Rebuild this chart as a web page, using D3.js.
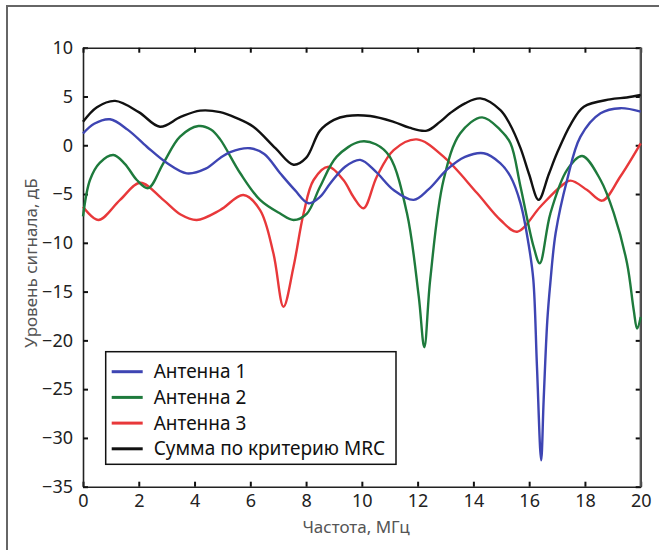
<!DOCTYPE html>
<html>
<head>
<meta charset="utf-8">
<script src="https://cdn.jsdelivr.net/npm/d3@7"></script>
<style>
  body { margin: 0; background: #fff; }
  svg { display: block; font-family: "Noto Sans", "Open Sans", sans-serif; }
</style>
</head>
<body>
<script>
//#### DATA ####
// frequency (MHz) / level (dB)
var mrcX = [0, 0.5, 1.15, 2, 2.76, 3.5, 4.2, 4.92, 5.5, 6.11, 6.9, 7.55, 8.0, 8.5, 9.0, 9.46, 10.3, 11.14, 11.7, 12.33, 12.8, 13.17, 13.7, 14.25, 14.97, 15.3, 15.69, 16.0, 16.34, 16.7, 17.0, 17.5, 17.96, 18.9, 19.5, 20];
var mrcY = [2.4, 3.9, 4.55, 3.4, 1.9, 2.9, 3.55, 3.4, 2.8, 1.9, -0.3, -2.0, -1.3, 1.5, 2.6, 3.0, 3.0, 2.4, 1.8, 1.5, 2.4, 3.3, 4.3, 4.8, 3.6, 2.2, -0.3, -3.0, -5.6, -3.0, -0.8, 2.2, 3.95, 4.7, 4.9, 5.15];

var ant1X = [0, 0.4, 0.97, 1.6, 2.29, 3.0, 3.72, 4.4, 4.92, 5.28, 5.99, 6.5, 7.07, 7.6, 8.09, 8.5, 8.87, 9.4, 9.94, 10.5, 11.14, 11.86, 12.4, 13.05, 13.7, 14.37, 14.97, 15.33, 15.69, 16.0, 16.15, 16.28, 16.43, 16.52, 16.65, 16.76, 16.95, 17.36, 17.84, 18.56, 19.27, 20];
var ant1Y = [1.2, 2.2, 2.66, 1.6, -0.15, -1.8, -2.88, -2.4, -1.3, -0.7, -0.31, -0.9, -2.87, -4.6, -5.95, -5.3, -3.9, -2.2, -1.5, -2.7, -4.59, -5.6, -4.5, -2.5, -1.2, -0.82, -1.85, -3.2, -5.95, -10.5, -13.8, -22.7, -32.3, -26.1, -18.0, -14.1, -9.0, -3.56, 0.88, 3.28, 3.8, 3.44];

var ant2X = [0, 0.25, 0.6, 1.09, 1.5, 1.93, 2.34, 2.88, 3.48, 4.14, 4.6, 4.92, 5.64, 6.35, 7.07, 7.55, 8.03, 8.5, 9.1, 9.94, 10.5, 11.0, 11.62, 12.04, 12.24, 12.45, 12.93, 13.53, 14.31, 14.97, 15.33, 15.69, 16.16, 16.38, 16.76, 17.36, 17.9, 18.56, 19.04, 19.51, 19.75, 19.87, 20];
var ant2Y = [-7.3, -3.56, -1.8, -1.0, -1.9, -3.56, -4.4, -1.85, 0.88, 1.97, 1.6, 0.6, -2.87, -5.6, -7.0, -7.66, -7.0, -4.25, -1.17, 0.37, 0.1, -1.17, -7.0, -15.5, -20.7, -13.8, -3.56, 1.23, 2.86, 1.56, 0.2, -4.25, -10.4, -12.1, -7.0, -2.53, -1.1, -3.56, -7.0, -12.1, -16.9, -18.8, -17.6];

var ant3X = [0, 0.55, 1.33, 2.05, 2.88, 3.5, 4.08, 4.92, 5.75, 6.35, 6.83, 7.19, 7.55, 7.91, 8.27, 8.8, 9.34, 9.7, 10.06, 10.54, 11.14, 11.97, 12.93, 14.13, 14.97, 15.57, 16.4, 17.12, 17.48, 18.08, 18.62, 19.27, 20];
var ant3Y = [-6.3, -7.66, -5.6, -3.84, -5.6, -7.1, -7.66, -6.64, -5.1, -6.64, -11.1, -16.55, -12.45, -7.0, -3.56, -2.2, -3.56, -5.3, -6.46, -3.2, -0.49, 0.6, -1.17, -4.9, -7.66, -8.86, -6.3, -4.25, -3.63, -4.59, -5.68, -3.2, 0.2];

var seriesNames = ["Антенна 1", "Антенна 2", "Антенна 3", "Сумма по критерию MRC"];
var seriesColors = ["#3e45b3", "#1e7a3c", "#e8383a", "#111111"];

var xTicks = [0, 2, 4, 6, 8, 10, 12, 14, 16, 18, 20];
var yTicks = [10, 5, 0, -5, -10, -15, -20, -25, -30, -35];

var xTitle = "Частота, МГц";
var yTitle = "Уровень сигнала, дБ";
//##############

var width_outer = 659;
var height_outer = 550;
var margin = {top: 47.7, right: 18.3, bottom: 63.3, left: 83};
var width = width_outer - margin.left - margin.right;
var height = height_outer - margin.top - margin.bottom;

var svg0 = d3.select("body").append("svg")
  .attr("width", width_outer)
  .attr("height", height_outer);

// outer frame (left + top visible)
svg0.append("path")
  .attr("d", "M7,550 L7,6 L659,6")
  .attr("fill", "none")
  .attr("stroke", "#666")
  .attr("stroke-width", 2);

var svg = svg0.append("g")
  .attr("transform", "translate(" + margin.left + "," + margin.top + ")");

var x = d3.scaleLinear().domain([0, 20]).range([0, width]);
var y = d3.scaleLinear().domain([-35, 10]).range([height, 0]);

// axes, ticks pointing inward
var xAxis = d3.axisBottom(x).tickValues(xTicks).tickSizeInner(-5).tickSizeOuter(0).tickPadding(8);
var yAxis = d3.axisLeft(y).tickValues(yTicks).tickSizeInner(-5).tickSizeOuter(0).tickPadding(10);
var xTop = d3.axisTop(x).tickValues(xTicks).tickSizeInner(-5).tickSizeOuter(0).tickFormat("");
var yRight = d3.axisRight(y).tickValues(yTicks).tickSizeInner(-5).tickSizeOuter(0).tickFormat("");

svg.append("g").attr("class", "axis")
  .attr("transform", "translate(0," + height + ")")
  .call(xAxis);
svg.append("g").attr("class", "axis")
  .call(yAxis);
svg.append("g").attr("class", "axis")
  .call(xTop);
svg.append("g").attr("class", "axis")
  .attr("transform", "translate(" + width + ",0)")
  .call(yRight);

svg.selectAll(".axis path.domain").attr("stroke", "#222").attr("stroke-width", 1.6);
svg.selectAll(".axis line").attr("stroke", "#111").attr("stroke-width", 2);
svg.selectAll(".axis text")
  .attr("fill", "#222")
  .style("font-size", "18px")
  .style("font-family", "'Noto Sans', sans-serif");

// right side of plot box is grey
svg.append("line")
  .attr("x1", width).attr("x2", width)
  .attr("y1", 0).attr("y2", height)
  .attr("stroke", "#555").attr("stroke-width", 2.2);

// titles
svg0.append("text")
  .attr("x", 356)
  .attr("y", 533)
  .attr("text-anchor", "middle")
  .attr("fill", "#555")
  .style("font-size", "17px")
  .text(xTitle);

svg0.append("text")
  .attr("transform", "translate(37," + 263 + ") rotate(-90)")
  .attr("text-anchor", "middle")
  .attr("fill", "#555")
  .style("font-size", "17px")
  .text(yTitle);

// lines
var line = d3.line()
  .curve(d3.curveCatmullRom.alpha(0.5))
  .x(function(d) { return x(d.x); })
  .y(function(d) { return y(d.y); });

function toPoints(X, Y) {
  return X.map(function(v, i) { return {x: v, y: Y[i]}; });
}

var series = [
  {name: seriesNames[3], color: seriesColors[3], pts: toPoints(mrcX, mrcY)},
  {name: seriesNames[2], color: seriesColors[2], pts: toPoints(ant3X, ant3Y)},
  {name: seriesNames[1], color: seriesColors[1], pts: toPoints(ant2X, ant2Y)},
  {name: seriesNames[0], color: seriesColors[0], pts: toPoints(ant1X, ant1Y)}
];

series.forEach(function(s) {
  svg.append("path")
    .datum(s.pts)
    .attr("class", "line")
    .attr("d", line)
    .attr("fill", "none")
    .attr("stroke", s.color)
    .attr("stroke-width", 2.4)
    .attr("stroke-linejoin", "round");
});

// legend
var legend = svg0.append("g").attr("transform", "translate(105.7,351.7)");
legend.append("rect")
  .attr("width", 290.3)
  .attr("height", 112.6)
  .attr("fill", "#fff")
  .attr("stroke", "#111")
  .attr("stroke-width", 1.5);

seriesNames.forEach(function(n, i) {
  var yy = 20 + i * 25.7;
  legend.append("line")
    .attr("x1", 6).attr("x2", 37)
    .attr("y1", yy).attr("y2", yy)
    .attr("stroke", seriesColors[i])
    .attr("stroke-width", 3);
  legend.append("text")
    .attr("x", 48)
    .attr("y", yy + 6.5)
    .attr("fill", "#111")
    .style("font-size", "19px")
    .text(n);
});
</script>
</body>
</html>
